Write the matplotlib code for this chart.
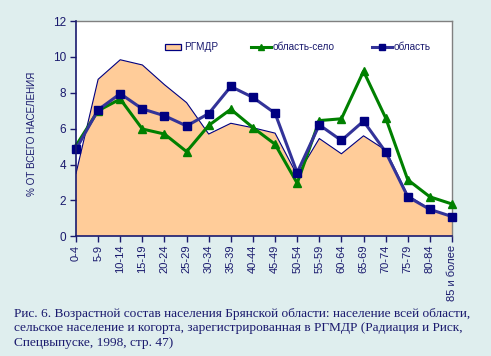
import matplotlib
matplotlib.use("Agg")
import matplotlib.pyplot as plt
from matplotlib.patches import Rectangle

categories = ["0-4", "5-9", "10-14", "15-19", "20-24", "25-29", "30-34", "35-39",
              "40-44", "45-49", "50-54", "55-59", "60-64", "65-69", "70-74",
              "75-79", "80-84", "85 и более"]
rgmdr = [3.5, 8.75, 9.84, 9.55, 8.45, 7.45, 5.7, 6.3, 6.05, 5.75, 3.4, 5.45, 4.6,
         5.6, 4.8, 2.3, 1.5, 1.1]
oblast_selo = [5.05, 7.0, 7.65, 5.98, 5.7, 4.72, 6.18, 7.08, 6.06, 5.13, 2.96, 6.45,
               6.55, 9.2, 6.6, 3.15, 2.2, 1.8]
oblast = [4.85, 7.05, 7.95, 7.1, 6.72, 6.15, 6.84, 8.35, 7.74, 6.86, 3.55, 6.21,
          5.34, 6.42, 4.7, 2.2, 1.5, 1.1]
yticks = [0, 2, 4, 6, 8, 10, 12]
legend_labels = ["РГМДР", "область-село", "область"]
ylabel = "% ОТ ВСЕГО НАСЕЛЕНИЯ"
caption = ("Рис. 6. Возрастной состав населения Брянской области: население всей области,\n"
           "сельское население и когорта, зарегистрированная в РГМДР (Радиация и Риск,\n"
           "Спецвыпуске, 1998, стр. 47)")

navy = "#1a1a6e"
bg = "#dfeeee"
area_c = "#ffcc99"
green = "#008000"
blue = "#333399"
dark = "#000080"

W, H = 491, 356
fig = plt.figure(figsize=(W / 100, H / 100), dpi=100, facecolor=bg)
ax = fig.add_axes([76 / W, 1 - 236.3 / H, (452 - 76) / W, (236.3 - 21) / H])
ax.set_facecolor("white")

x = list(range(len(categories)))
ax.fill_between(x, rgmdr, 0, facecolor=area_c, edgecolor="none", zorder=1)
ax.plot(x, rgmdr, color=dark, lw=0.8, zorder=2)
ax.plot(x, oblast_selo, color=green, lw=2.2, marker="^", ms=6,
        markerfacecolor=green, markeredgecolor=green, zorder=3, clip_on=False)
ax.plot(x, oblast, color=blue, lw=2.2, marker="s", ms=5.5,
        markerfacecolor=dark, markeredgecolor=dark, zorder=4, clip_on=False)

ax.set_xlim(0, len(categories) - 1)
ax.set_ylim(0, 12)
ax.set_yticks(yticks)
ax.set_yticklabels([str(v) for v in yticks], fontsize=8.5, color=navy,
                   family="Liberation Sans")
ax.set_xticks(x)
ax.set_xticklabels(categories, rotation=90, fontsize=8, color=navy,
                   family="Liberation Sans")
ax.tick_params(axis="both", direction="out", color=navy, length=4, width=1)
ax.tick_params(axis="y", pad=3)
ax.tick_params(axis="x", pad=2)

for s in ["left", "bottom"]:
    ax.spines[s].set_color(navy)
    ax.spines[s].set_linewidth(1.2)
    ax.spines[s].set_zorder(5)
for s in ["top", "right"]:
    ax.spines[s].set_color("#808080")
    ax.spines[s].set_linewidth(1.0)

fig.text(32 / W, 1 - 134 / H, ylabel, rotation=90, ha="center", va="center",
         fontsize=7.1, color=navy, family="Liberation Sans")

# manual legend (axes coordinates)
ly = 0.879
tr = ax.transAxes
ax.add_patch(Rectangle((0.2367, 0.866), 0.0423, 0.027, transform=tr,
                       facecolor=area_c, edgecolor=dark, lw=0.9, zorder=6))
ax.plot([0.4646, 0.5178], [ly, ly], transform=tr, color=green, lw=2.2, zorder=6)
ax.plot([0.4912], [ly], transform=tr, marker="^", ms=5, color=green, zorder=6)
ax.plot([0.7864, 0.8396], [ly, ly], transform=tr, color=blue, lw=2.2, zorder=6)
ax.plot([0.813], [ly], transform=tr, marker="s", ms=4.5, color=dark, zorder=6)
for xt, lab in zip([0.2872, 0.5221, 0.8439], legend_labels):
    ax.text(xt, ly, lab, transform=tr, ha="left", va="center", fontsize=7.2,
            color=navy, family="Liberation Sans", zorder=6)

fig.text(14 / W, 1 - 307.5 / H, caption, ha="left", va="top", fontsize=9.6,
         color=navy, family="Liberation Serif", linespacing=1.32)

fig.savefig("out.png", dpi=100, facecolor=bg)
